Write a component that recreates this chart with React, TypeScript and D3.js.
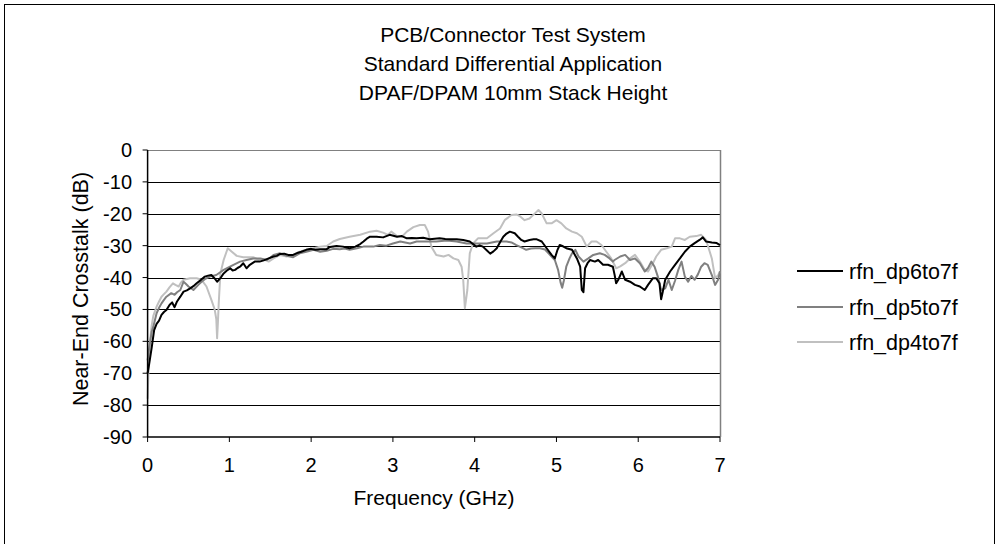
import React from "react";
import * as d3 from "d3";

// Near-end crosstalk traces: [frequency GHz, crosstalk dB]
const dp6to7f: [number, number][] = [
  [0.0, -70], [0.02, -67], [0.05, -62], [0.08, -56.5], [0.11, -54.5], [0.14, -53.5], [0.17, -51.7], [0.2, -50.8],
  [0.23, -50.2], [0.27, -48.5], [0.3, -47.8], [0.33, -49.3], [0.36, -47.5], [0.4, -46], [0.44, -44.4], [0.48, -44],
  [0.52, -43.4], [0.56, -42.7], [0.6, -41.8], [0.65, -40.8], [0.7, -39.7], [0.74, -39.4], [0.78, -39.2], [0.82, -40.3],
  [0.85, -41.3], [0.89, -40.2], [0.93, -38.7], [0.97, -37.8], [1.01, -37.1], [1.04, -37.8], [1.07, -37.6], [1.1, -37],
  [1.13, -36.6], [1.17, -35.5], [1.21, -37.1], [1.25, -36], [1.31, -35], [1.37, -35], [1.42, -34.6], [1.48, -34],
  [1.54, -33.4], [1.58, -33.2], [1.62, -32.6], [1.67, -32.5], [1.72, -32.9], [1.78, -32.9], [1.84, -32.2], [1.88, -31.9],
  [1.94, -31.3], [2.0, -31], [2.05, -31.3], [2.11, -31.1], [2.19, -31.1], [2.23, -30.4], [2.31, -30.1], [2.39, -30.3],
  [2.47, -30.8], [2.54, -30.3], [2.6, -29.5], [2.64, -28.7], [2.68, -27.8], [2.72, -27.2], [2.8, -27.2], [2.88, -27.4],
  [2.96, -26.6], [3.05, -27.2], [3.11, -27], [3.17, -27.7], [3.23, -27.6], [3.29, -27.7], [3.37, -27.5], [3.45, -28],
  [3.51, -27.8], [3.57, -27.7], [3.64, -27.9], [3.7, -28], [3.78, -28], [3.86, -28.2], [3.94, -28.7], [4.02, -30.3],
  [4.06, -29.9], [4.1, -30.3], [4.15, -31.5], [4.19, -32.5], [4.23, -31.8], [4.27, -30.8], [4.31, -28.9], [4.35, -27.2],
  [4.39, -26.2], [4.43, -25.6], [4.49, -26.1], [4.53, -27.2], [4.57, -28.2], [4.61, -28.7], [4.67, -28.2], [4.72, -28],
  [4.76, -28], [4.82, -28.7], [4.88, -30.8], [4.94, -32.9], [4.98, -34], [5.01, -31.5], [5.04, -29.8], [5.08, -30.2],
  [5.12, -30.8], [5.19, -31.3], [5.25, -34], [5.29, -36.6], [5.31, -43.9], [5.33, -44.6], [5.35, -37.1], [5.38, -35.5],
  [5.41, -34.5], [5.47, -35], [5.51, -34.5], [5.57, -36], [5.63, -36], [5.69, -36.6], [5.71, -39], [5.73, -41.8],
  [5.76, -40.5], [5.8, -38.1], [5.84, -40.7], [5.9, -41.3], [5.96, -42.3], [6.02, -42.8], [6.08, -43.9], [6.12, -42.3],
  [6.18, -40.2], [6.22, -40.2], [6.26, -41.8], [6.28, -46.8], [6.3, -44.5], [6.33, -40.7], [6.39, -38.1], [6.45, -36],
  [6.51, -34], [6.57, -31.9], [6.63, -30.3], [6.69, -29.2], [6.75, -28.2], [6.79, -27.4], [6.83, -28.7], [6.9, -29],
  [6.96, -29.2], [7.0, -29.8],
];

const dp5to7f: [number, number][] = [
  [0.0, -66], [0.02, -62], [0.05, -57], [0.07, -55.4], [0.11, -51.2], [0.14, -49.5], [0.17, -48.1], [0.2, -47],
  [0.23, -46], [0.29, -44.9], [0.33, -45.4], [0.36, -44.6], [0.4, -43.9], [0.44, -41.3], [0.47, -42], [0.5, -42.8],
  [0.56, -43.9], [0.62, -42.3], [0.66, -41.3], [0.7, -40.5], [0.76, -39.7], [0.84, -39.2], [0.88, -38.5], [0.93, -37.6],
  [0.99, -36.8], [1.05, -36], [1.13, -35], [1.21, -34.5], [1.29, -34], [1.38, -34], [1.46, -34.5], [1.5, -33.8],
  [1.54, -32.9], [1.62, -32.4], [1.7, -33.2], [1.78, -33.6], [1.86, -32.4], [1.94, -31.9], [2.03, -31.3], [2.11, -31.9],
  [2.19, -31.6], [2.27, -31], [2.35, -31.1], [2.41, -30.9], [2.47, -31.3], [2.56, -30.8], [2.64, -30.3], [2.76, -30.3],
  [2.84, -29.8], [2.92, -30], [3.0, -29.3], [3.09, -28.7], [3.15, -29], [3.21, -29.3], [3.29, -28.7], [3.41, -28.7],
  [3.53, -28.7], [3.66, -28.4], [3.78, -28.7], [3.9, -29.3], [4.02, -29.3], [4.15, -29.3], [4.27, -28.7], [4.39, -28.7],
  [4.45, -29], [4.51, -29.8], [4.59, -30.8], [4.63, -31.3], [4.69, -30.9], [4.74, -30.8], [4.8, -30.8], [4.86, -31.2],
  [4.94, -33.4], [4.98, -34.5], [5.02, -37.6], [5.05, -41.5], [5.07, -43.2], [5.09, -41], [5.12, -36.6], [5.16, -34],
  [5.19, -32.4], [5.23, -31.3], [5.27, -33.4], [5.33, -35], [5.39, -34], [5.45, -32.9], [5.53, -32.4], [5.59, -32.9],
  [5.65, -34], [5.69, -35], [5.71, -34.5], [5.78, -33.4], [5.84, -32.9], [5.9, -34.5], [5.96, -34], [6.02, -35.5],
  [6.08, -38.1], [6.12, -37], [6.16, -35], [6.2, -36.6], [6.24, -39.7], [6.28, -43.9], [6.33, -43.4], [6.37, -40.7],
  [6.41, -43.9], [6.45, -41], [6.49, -37.6], [6.53, -35], [6.57, -39.7], [6.61, -41.3], [6.65, -39.5], [6.69, -40.7],
  [6.73, -39], [6.77, -36.6], [6.81, -35.5], [6.85, -36], [6.9, -39.2], [6.94, -42.3], [6.98, -40.5], [7.0, -38],
];

const dp4to7f: [number, number][] = [
  [0.0, -78], [0.01, -70], [0.03, -60], [0.05, -55], [0.07, -52], [0.11, -49.1], [0.14, -47.5], [0.17, -46],
  [0.2, -45.2], [0.23, -44.4], [0.27, -43], [0.31, -41.8], [0.34, -42.3], [0.38, -42.8], [0.41, -41.5], [0.44, -40.7],
  [0.52, -40.2], [0.6, -40.2], [0.66, -40.7], [0.72, -42.8], [0.78, -47], [0.82, -50], [0.84, -53], [0.85, -59],
  [0.86, -54], [0.87, -48], [0.89, -38.7], [0.93, -34.5], [0.98, -30.8], [1.03, -31.9], [1.09, -33.2], [1.17, -33.6],
  [1.29, -33.6], [1.35, -34.3], [1.42, -34.3], [1.48, -35], [1.54, -34], [1.62, -32.9], [1.7, -33.4], [1.78, -32.9],
  [1.86, -31.9], [1.94, -31.3], [2.03, -30.8], [2.11, -30.3], [2.19, -30.1], [2.27, -28.7], [2.35, -27.9], [2.47, -27.2],
  [2.6, -26.6], [2.72, -25.6], [2.8, -25.3], [2.88, -25.9], [2.94, -26.6], [2.98, -25.6], [3.05, -27], [3.11, -27.2],
  [3.17, -25.6], [3.25, -24.2], [3.33, -23.5], [3.39, -23.5], [3.43, -25.6], [3.47, -30.3], [3.53, -32.9], [3.62, -33.4],
  [3.68, -32.9], [3.74, -34], [3.8, -34.5], [3.84, -36.6], [3.86, -40.8], [3.88, -49.6], [3.91, -43.9], [3.94, -32.4],
  [3.98, -29.3], [4.04, -27.7], [4.15, -27.7], [4.23, -26.1], [4.31, -24.6], [4.37, -21.9], [4.45, -20.4], [4.51, -20.2],
  [4.55, -20.7], [4.61, -22], [4.67, -21.5], [4.74, -19.8], [4.78, -18.8], [4.82, -19.9], [4.88, -23], [4.94, -23],
  [5.0, -22], [5.06, -23], [5.12, -24.6], [5.19, -25.6], [5.25, -26.1], [5.31, -27.2], [5.37, -30.3], [5.43, -28.7],
  [5.49, -28.7], [5.55, -29.8], [5.61, -31.9], [5.67, -34], [5.73, -37.1], [5.78, -36.5], [5.84, -35.5], [5.9, -34],
  [5.96, -32.9], [6.02, -35], [6.08, -37.6], [6.12, -38.1], [6.18, -35.5], [6.22, -33.4], [6.28, -31.3], [6.35, -30.8],
  [6.41, -30.3], [6.45, -27.7], [6.51, -27.7], [6.57, -28.2], [6.63, -27.2], [6.71, -27], [6.77, -26.6], [6.83, -28.2],
  [6.9, -34], [6.94, -40.2], [6.98, -39.2], [7.0, -38.1],
];

const seriesNames = ["rfn_dp6to7f", "rfn_dp5to7f", "rfn_dp4to7f"];
const seriesColors = ["#000000", "#808080", "#c0c0c0"];
const titleLines = [
  "PCB/Connector Test System",
  "Standard Differential Application",
  "DPAF/DPAM 10mm Stack Height",
];
const xTicks = [0, 1, 2, 3, 4, 5, 6, 7];
const yTicks = [0, -10, -20, -30, -40, -50, -60, -70, -80, -90];

const W = 1002;
const H = 544;
const FONT = "'Liberation Sans', Arial, sans-serif";

export default function App() {
  const plot = { left: 147.6, right: 720, top: 150, bottom: 437 };
  const x = d3.scaleLinear().domain([0, 7]).range([plot.left, plot.right]);
  const y = d3.scaleLinear().domain([-90, 0]).range([plot.bottom, plot.top]);
  const line = d3
    .line<[number, number]>()
    .x((d) => x(d[0]))
    .y((d) => y(d[1]));
  const allSeries = [dp6to7f, dp5to7f, dp4to7f];
  const legendRows = [271, 307, 342];

  return (
    <svg
      width={W}
      height={H}
      style={{ position: "absolute", left: 0, top: 0, background: "#fff" }}
      fontFamily={FONT}
    >
      <rect x={0} y={0} width={W} height={H} fill="#fff" />
      {/* chart frame */}
      <rect x={4.5} y={4.5} width={990} height={600} fill="none" stroke="#000" strokeWidth={1} />

      {titleLines.map((t, i) => (
        <text key={t} x={513} y={42 + i * 29} fontSize={21} textAnchor="middle" fill="#000">
          {t}
        </text>
      ))}

      {/* gridlines */}
      {yTicks
        .filter((v) => v !== 0 && v !== -90)
        .map((v) => (
          <line key={v} x1={plot.left} x2={plot.right} y1={Math.round(y(v)) + 0.5} y2={Math.round(y(v)) + 0.5} stroke="#000" strokeWidth={1} />
        ))}
      {/* plot frame */}
      <line x1={plot.left} x2={plot.right} y1={plot.top + 0.5} y2={plot.top + 0.5} stroke="#808080" strokeWidth={1} />
      <line x1={plot.right + 0.5} x2={plot.right + 0.5} y1={plot.top} y2={plot.bottom} stroke="#808080" strokeWidth={1.5} />

      {/* series */}
      {allSeries
        .map((s, i) => ({ s, i }))
        .reverse()
        .map(({ s, i }) => (
          <path key={i} d={line(s) || ""} fill="none" stroke={seriesColors[i]} strokeWidth={2} strokeLinejoin="round" />
        ))}

      {/* axes */}
      <line x1={plot.left} x2={plot.left} y1={plot.top} y2={plot.bottom} stroke="#000" strokeWidth={1.5} />
      <line x1={plot.left} x2={plot.right} y1={plot.bottom} y2={plot.bottom} stroke="#000" strokeWidth={1.5} />
      {yTicks.map((v) => (
        <g key={v}>
          <line x1={plot.left - 5} x2={plot.left} y1={y(v)} y2={y(v)} stroke="#000" strokeWidth={1} />
          <text x={132} y={y(v)} dy="0.35em" fontSize={20} textAnchor="end" fill="#000">
            {v}
          </text>
        </g>
      ))}
      {xTicks.map((v) => (
        <g key={v}>
          <line x1={x(v)} x2={x(v)} y1={plot.bottom} y2={plot.bottom + 5} stroke="#000" strokeWidth={1} />
          <text x={x(v)} y={472} fontSize={20} textAnchor="middle" fill="#000">
            {v}
          </text>
        </g>
      ))}

      <text x={434} y={505} fontSize={21} textAnchor="middle" fill="#000">
        Frequency (GHz)
      </text>
      <text
        transform={`translate(88,289) rotate(-90)`}
        fontSize={21.5}
        textAnchor="middle"
        fill="#000"
      >
        Near-End Crosstalk (dB)
      </text>

      {/* legend */}
      {seriesNames.map((n, i) => (
        <g key={n}>
          <line x1={797} x2={843} y1={legendRows[i]} y2={legendRows[i]} stroke={seriesColors[i]} strokeWidth={2} />
          <text x={849} y={legendRows[i]} dy="0.35em" fontSize={21.5} fill="#000">
            {n}
          </text>
        </g>
      ))}
    </svg>
  );
}
